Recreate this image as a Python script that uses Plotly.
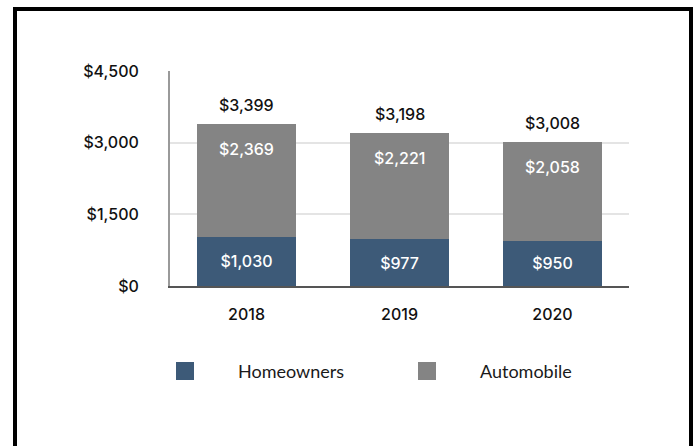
import plotly.graph_objects as go

# Average premium per policy, by line of business
years = ["2018", "2019", "2020"]
homeowners = [1030, 977, 950]
automobile = [2369, 2221, 2058]
totals = [h + a for h, a in zip(homeowners, automobile)]

y_ticks = [0, 1500, 3000, 4500]
y_tick_labels = ["$0", "$1,500", "$3,000", "$4,500"]

BLUE = "#3d5a78"
GRAY = "#848484"
NUM_FONT = "Inter"
LEGEND_FONT = "Lato"
DARK_TEXT = dict(family=NUM_FONT, size=16, color="#111111", weight=500)
LIGHT_TEXT = dict(family=NUM_FONT, size=16, color="white", weight=500)

W, H = 698, 446
L, R, T, B = 170, 69, 71, 160
PW, PH = W - L - R, H - T - B


def px_x(x):
    return (x - L) / PW


def px_y(y):
    return (H - B - y) / PH


fig = go.Figure()
fig.add_trace(go.Bar(
    x=years, y=homeowners, name="Homeowners",
    marker=dict(color=BLUE, line=dict(width=0)),
    text=[f"${v:,}" for v in homeowners], textposition="inside",
    insidetextanchor="middle", textfont=LIGHT_TEXT,
    showlegend=False,
))
fig.add_trace(go.Bar(
    x=years, y=automobile, name="Automobile",
    marker=dict(color=GRAY, line=dict(width=0)),
    showlegend=False,
))

# Segment and total labels; category axis positions are given by index
annotations = []
for i, (a, t) in enumerate(zip(automobile, totals)):
    annotations.append(dict(
        x=i, y=t, xref="x", yref="y", text=f"${a:,}", showarrow=False,
        yshift=-25, font=LIGHT_TEXT,
    ))
    annotations.append(dict(
        x=i, y=t, xref="x", yref="y", text=f"${t:,}", showarrow=False,
        yshift=19, font=DARK_TEXT,
    ))

# Legend: swatches and labels below the axis
legend_items = [("Homeowners", BLUE, 176, 236), ("Automobile", GRAY, 418, 478)]
shapes = []
for name, color, sx, tx in legend_items:
    shapes.append(dict(
        type="rect", xref="paper", yref="paper",
        x0=px_x(sx), x1=px_x(sx + 18), y0=px_y(362), y1=px_y(380),
        fillcolor=color, line=dict(width=0),
    ))
    annotations.append(dict(
        x=px_x(tx), y=px_y(371), xref="paper", yref="paper", text=name,
        showarrow=False, xanchor="left", yanchor="middle",
        font=dict(family=LEGEND_FONT, size=18, color="#1a1a1a"),
    ))

# Outer frame
shapes.append(dict(
    type="rect", xref="paper", yref="paper",
    x0=px_x(15), x1=px_x(691), y0=px_y(470), y1=px_y(9),
    line=dict(color="black", width=4), fillcolor="rgba(0,0,0,0)",
    layer="above",
))

fig.update_layout(
    width=W, height=H,
    margin=dict(l=L, r=R, t=T, b=B, pad=0),
    barmode="stack", bargap=0.353,
    plot_bgcolor="white", paper_bgcolor="white",
    showlegend=False,
    annotations=annotations, shapes=shapes,
    xaxis=dict(
        type="category", range=[-0.5, 2.5],
        showline=True, linecolor="#555555", linewidth=2,
        showgrid=False, ticks="outside", ticklen=13,
        tickcolor="rgba(0,0,0,0)", tickfont=DARK_TEXT,
        fixedrange=True,
    ),
    yaxis=dict(
        range=[0, 4500], tickvals=y_ticks, ticktext=y_tick_labels,
        showline=True, linecolor="#9a9a9a", linewidth=2,
        showgrid=True, gridcolor="#e4e4e4", gridwidth=2,
        zeroline=False, ticks="outside", ticklen=26,
        tickcolor="rgba(0,0,0,0)", tickfont=DARK_TEXT,
        fixedrange=True,
    ),
)

fig.write_html("out.html", config={"displayModeBar": False})
